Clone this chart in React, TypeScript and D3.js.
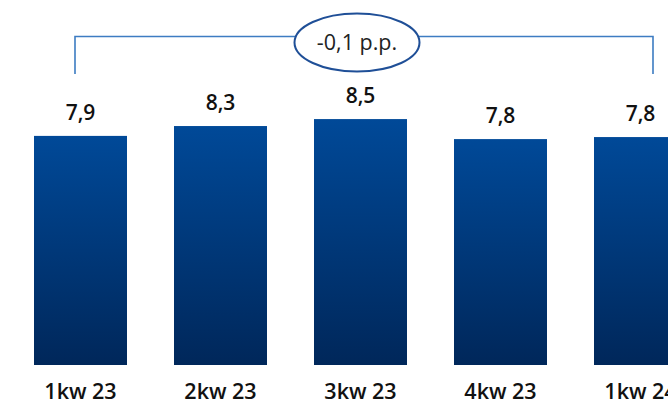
import React from "react";
import * as d3 from "d3";

const categories = ["1kw 23", "2kw 23", "3kw 23", "4kw 23", "1kw 24"];
const values = [7.9, 8.24, 8.48, 7.79, 7.86];
const valueLabels = ["7,9", "8,3", "8,5", "7,8", "7,8"];
const changeLabel = "-0,1 p.p.";

const W = 668;
const H = 404;
const FONT = "'Open Sans', 'DejaVu Sans', sans-serif";

export default function App() {
  const x = d3
    .scaleBand<string>()
    .domain(categories)
    .range([10.5, 710.5])
    .paddingInner(0.3357)
    .paddingOuter(0.16785);
  const y = d3.scaleLinear().domain([0, 10]).range([365, 75]);
  const bw = x.bandwidth();

  const first = categories[0];
  const last = categories[categories.length - 1];
  const bx0 = (x(first) as number) + 41;
  const bx1 = (x(last) as number) + 59;
  const by = 36.5;
  const byEnd = 74;
  const ecx = 357;
  const ecy = 42.5;

  return (
    <svg
      width={W}
      height={H}
      style={{ position: "absolute", left: 0, top: 0, background: "#fff" }}
    >
      <defs>
        <linearGradient id="barGrad" x1="0" y1="0" x2="0" y2="1">
          <stop offset="0%" stopColor="#004998" />
          <stop offset="100%" stopColor="#00275a" />
        </linearGradient>
      </defs>
      {categories.map((c, i) => (
        <g key={c}>
          <rect
            x={x(c)}
            y={y(values[i])}
            width={bw}
            height={y(0) - y(values[i])}
            fill="url(#barGrad)"
          />
          <text
            x={(x(c) as number) + bw / 2}
            y={y(values[i]) - 16}
            textAnchor="middle"
            fontFamily={FONT}
            fontWeight={600}
            fontSize={21}
            fill="#111"
          >
            {valueLabels[i]}
          </text>
          <text
            x={(x(c) as number) + bw / 2}
            y={399}
            textAnchor="middle"
            fontFamily={FONT}
            fontWeight={600}
            fontSize={21.5}
            fill="#111"
          >
            {c}
          </text>
        </g>
      ))}
      <path
        d={`M${bx0},${byEnd}V${by}H${bx1}V${byEnd}`}
        fill="none"
        stroke="#3d7cc2"
        strokeWidth={1.6}
      />
      <ellipse
        cx={ecx}
        cy={ecy}
        rx={62.5}
        ry={29}
        fill="#fff"
        stroke="#1f4f97"
        strokeWidth={2}
      />
      <text
        x={ecx}
        y={49.5}
        textAnchor="middle"
        fontFamily={FONT}
        fontSize={21.5}
        fill="#222"
      >
        {changeLabel}
      </text>
    </svg>
  );
}
